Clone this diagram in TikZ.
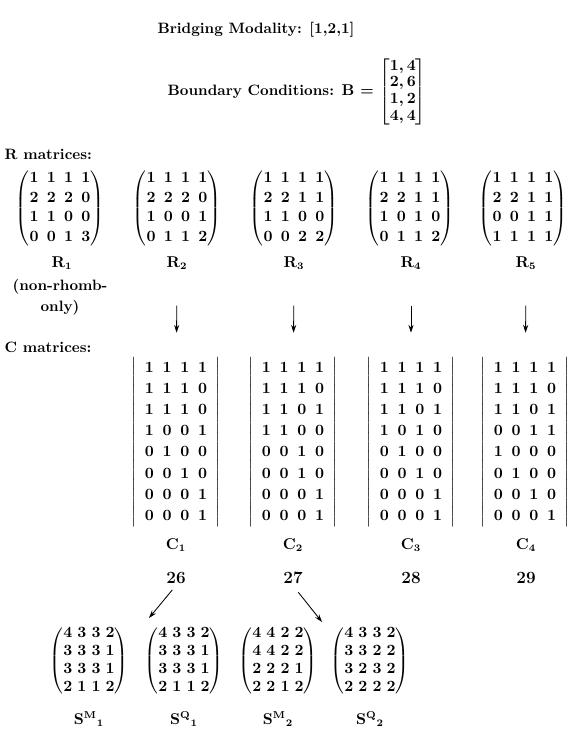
\documentclass[tikz,border=0pt]{standalone}
\usepackage{amsmath}
\usepackage{tikz}
\usetikzlibrary{arrows.meta,positioning,calc}
\newcommand\Rmat[1]{{\fontsize{11}{13.6}\selectfont\setlength\arraycolsep{2.9pt}\renewcommand\arraystretch{1.0}$\begin{pmatrix}#1\end{pmatrix}$}}
\newcommand\Cmat[1]{{\fontsize{11}{13.6}\selectfont\setlength\arraycolsep{3.05pt}\renewcommand\arraystretch{1.09}$\left|\;\,\begin{matrix}#1\end{matrix}\;\,\right|$}}
\newcommand\Smat[1]{{\fontsize{10.5}{13}\selectfont\setlength\arraycolsep{1.8pt}\renewcommand\arraystretch{0.97}$\begin{pmatrix}#1\end{pmatrix}$}}
\newcommand\Bmat[1]{{\setlength\arraycolsep{2pt}\renewcommand\arraystretch{0.9}$\begin{bmatrix}#1\end{bmatrix}$}}

\begin{document}
\begin{tikzpicture}[x=.7pt,y=-.7pt,
txt/.style={font=\fontsize{10.5}{13}\bfseries\boldmath,inner sep=1pt},
mat/.style={font=\boldmath,inner sep=0pt},
num/.style={font=\bfseries\large,inner sep=1pt},
arr/.style={-{Stealth[length=5.5pt,width=3.6pt]},line width=.6pt}]
\useasboundingbox (0,0) rectangle (570,734);
\node[txt] (title) at (256,30) {Bridging Modality: [1,2,1]};
\node[txt,anchor=west] (bcond) at (166,92) {Boundary Conditions: $\mathbf{B}$ = \Bmat{1,4\\2,6\\1,2\\4,4}};
\node[txt,anchor=west] (rhead) at (3,154) {R matrices:};
\node[mat] (r1) at (60,208) {\Rmat{1&1&1&1\\2&2&2&0\\1&1&0&0\\0&0&1&3}};
\node[mat] (r2) at (177,208) {\Rmat{1&1&1&1\\2&2&2&0\\1&0&0&1\\0&1&1&2}};
\node[mat] (r3) at (294,208) {\Rmat{1&1&1&1\\2&2&1&1\\1&1&0&0\\0&0&2&2}};
\node[mat] (r4) at (410,208) {\Rmat{1&1&1&1\\2&2&1&1\\1&0&1&0\\0&1&1&2}};
\node[mat] (r5) at (523,208) {\Rmat{1&1&1&1\\2&2&1&1\\0&0&1&1\\1&1&1&1}};
\node[txt] (r1lbl) at (62,263) {$\mathbf{R}_1$};
\node[txt] (r2lbl) at (177,263) {$\mathbf{R}_2$};
\node[txt] (r3lbl) at (294,263) {$\mathbf{R}_3$};
\node[txt] (r4lbl) at (411,263) {$\mathbf{R}_4$};
\node[txt] (r5lbl) at (526,263) {$\mathbf{R}_5$};
\node[txt,align=center] (r1note) at (60,297) {(non-rhomb-\\[2pt]only)};
\node[txt,anchor=west] (chead) at (3,347) {C matrices:};
\node[mat] (c1) at (176,442) {\Cmat{1&1&1&1\\1&1&1&0\\1&1&1&0\\1&0&0&1\\0&1&0&0\\0&0&1&0\\0&0&0&1\\0&0&0&1}};
\node[mat] (c2) at (293,442) {\Cmat{1&1&1&1\\1&1&1&0\\1&1&0&1\\1&1&0&0\\0&0&1&0\\0&0&1&0\\0&0&0&1\\0&0&0&1}};
\node[mat] (c3) at (411,442) {\Cmat{1&1&1&1\\1&1&1&0\\1&1&0&1\\1&0&1&0\\0&1&0&0\\0&0&1&0\\0&0&0&1\\0&0&0&1}};
\node[mat] (c4) at (525,442) {\Cmat{1&1&1&1\\1&1&1&0\\1&1&0&1\\0&0&1&1\\1&0&0&0\\0&1&0&0\\0&0&1&0\\0&0&0&1}};
\node[txt] (c1lbl) at (176,545) {$\mathbf{C}_1$};
\node[txt] (c2lbl) at (293,545) {$\mathbf{C}_2$};
\node[txt] (c3lbl) at (411,545) {$\mathbf{C}_3$};
\node[txt] (c4lbl) at (526,545) {$\mathbf{C}_4$};
\node[num] (n26) at (176,578) {26};
\node[num] (n27) at (293,578) {27};
\node[num] (n28) at (411,578) {28};
\node[num] (n29) at (526,578) {29};
\node[mat] (sm1) at (89,661) {\Smat{4&3&3&2\\3&3&3&1\\3&3&3&1\\2&1&1&2}};
\node[mat] (sq1) at (184,661) {\Smat{4&3&3&2\\3&3&3&1\\3&3&3&1\\2&1&1&2}};
\node[mat] (sm2) at (278,661) {\Smat{4&4&2&2\\4&4&2&2\\2&2&2&1\\2&2&1&2}};
\node[mat] (sq2) at (370,661) {\Smat{4&3&3&2\\3&3&2&2\\3&2&3&2\\2&2&2&2}};
\node[txt] (sm1lbl) at (89,719) {$\mathbf{S}^{\mathbf{M}}{}_{1}$};
\node[txt] (sq1lbl) at (184,719) {$\mathbf{S}^{\mathbf{Q}}{}_{1}$};
\node[txt] (sm2lbl) at (278,719) {$\mathbf{S}^{\mathbf{M}}{}_{2}$};
\node[txt] (sq2lbl) at (370,719) {$\mathbf{S}^{\mathbf{Q}}{}_{2}$};
\coordinate (fork1) at (149,618);
\coordinate (fork2) at (322,622);
\draw[arr,shorten <=24pt,shorten >=17pt](r2lbl)--(c1);\draw[arr,shorten <=24pt,shorten >=17pt](r3lbl)--(c2);
\draw[arr,shorten <=24pt,shorten >=17pt](r4lbl)--(c3);\draw[arr,shorten <=24pt,shorten >=17pt](r5lbl)--(c4);
\draw[arr,shorten <=4pt](n26.south)--(fork1);\draw[arr,shorten <=6pt](n27.south)--(fork2);
\end{tikzpicture}
\end{document}
